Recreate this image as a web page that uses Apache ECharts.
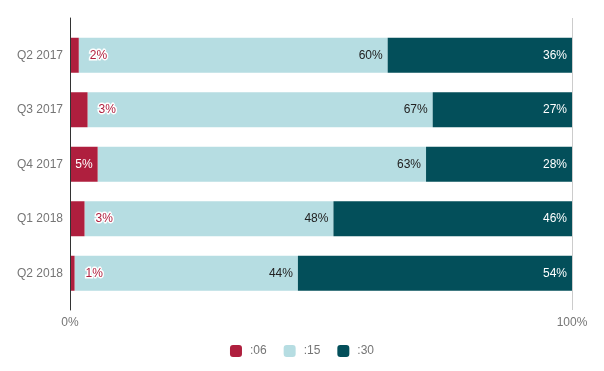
<!DOCTYPE html>
<html>
<head>
<meta charset="utf-8">
<script src="https://cdn.jsdelivr.net/npm/echarts@6/dist/echarts.min.js"></script>
<style>html,body{margin:0;padding:0;background:#fff;}#c{width:604px;height:371px;}</style>
</head>
<body>
<div id="c"></div>
<script>
const categories = ['Q2 2017', 'Q3 2017', 'Q4 2017', 'Q1 2018', 'Q2 2018'];
const seriesNames = [':06', ':15', ':30'];
const share06 = [1.7, 3.4, 5.3, 2.8, 0.9];
const share15 = [60.0, 66.9, 63.0, 48.0, 44.0];
const share30 = [35.8, 27.0, 28.0, 46.0, 54.0];
const xTickLabels = ['0%', '100%'];

const colors = ['#af1f3e', '#b6dde2', '#034f5a'];
const FONT = '"Liberation Sans", Arial, sans-serif';
const raws = [share06, share15, share30];
const totals = categories.map((_, i) => share06[i] + share15[i] + share30[i]);

function buildData(si) {
  return raws[si].map((v, i) => {
    const pct = v / totals[i] * 100;
    const item = { value: pct };
    if (si === 0) {
      if (pct >= 4) {
        item.label = { position: 'insideRight', distance: 5, color: '#fff' };
      } else {
        item.label = { position: 'right', distance: 11, color: '#b0203f', textBorderColor: '#fff', textBorderWidth: 3 };
      }
    }
    return item;
  });
}

const labelColors = [null, '#222', '#fff'];
const series = seriesNames.map((name, si) => ({
  name: name,
  type: 'bar',
  stack: 'total',
  xAxisIndex: 0,
  yAxisIndex: 0,
  barWidth: 35,
  z: si === 0 ? 4 : 2,
  itemStyle: { color: colors[si] },
  label: {
    show: true,
    position: 'insideRight',
    distance: 5,
    fontFamily: FONT,
    fontSize: 12,
    color: labelColors[si] || '#fff',
    formatter: p => Math.round(raws[si][p.dataIndex]) + '%'
  },
  data: buildData(si)
}));

const chart = echarts.init(document.getElementById('c'), null, { renderer: 'canvas' });
chart.setOption({
  animation: false,
  color: colors,
  textStyle: { fontFamily: FONT },
  grid: [
    { left: 70, right: 32, top: 28, bottom: 70.5 },
    { left: 70, right: 32, top: 18, bottom: 61 }
  ],
  xAxis: [
    { gridIndex: 0, type: 'value', min: 0, max: 100, show: false },
    {
      gridIndex: 1, type: 'value', min: 0, max: 100, interval: 100,
      axisLine: { show: false }, axisTick: { show: false },
      splitLine: { show: true, lineStyle: { color: '#cccccc', width: 1 } },
      axisLabel: {
        color: '#757575', fontSize: 12, fontFamily: FONT, margin: 7,
        formatter: v => xTickLabels[v === 0 ? 0 : 1]
      }
    }
  ],
  yAxis: [
    {
      gridIndex: 0, type: 'category', data: categories, inverse: true,
      axisLine: { show: false }, axisTick: { show: false }, splitLine: { show: false },
      axisLabel: { color: '#757575', fontSize: 12, fontFamily: FONT, margin: 7 }
    },
    {
      gridIndex: 1, type: 'value', min: 0, max: 1, z: 10,
      axisLine: { show: true, lineStyle: { color: '#333333', width: 1 } },
      axisTick: { show: false }, axisLabel: { show: false }, splitLine: { show: false }
    }
  ],
  legend: {
    left: 'center', top: 340,
    icon: 'roundRect', itemWidth: 12, itemHeight: 12, itemGap: 17,
    textStyle: { color: '#757575', fontSize: 12, fontFamily: FONT, padding: [0, 0, 0, 3] },
    data: seriesNames
  },
  series: series
});
</script>
</body>
</html>
